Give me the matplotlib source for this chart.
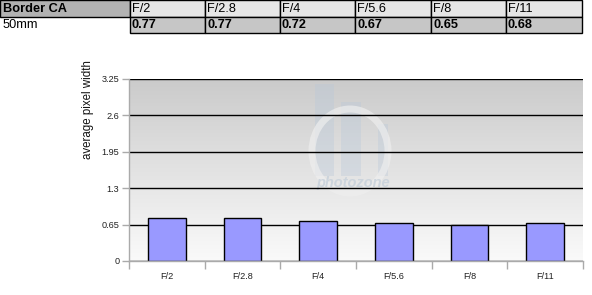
import numpy as np
import matplotlib
matplotlib.rcParams['font.family'] = ['Liberation Sans', 'DejaVu Sans']
import matplotlib.pyplot as plt
from matplotlib.patches import Rectangle, Ellipse

row_title = "Border CA"
lens = "50mm"
apertures = ["F/2", "F/2.8", "F/4", "F/5.6", "F/8", "F/11"]
values = [0.77, 0.77, 0.72, 0.67, 0.65, 0.68]
yticks = [0, 0.65, 1.3, 1.95, 2.6, 3.25]
ytick_labels = ["0", "0.65", "1.3", "1.95", "2.6", "3.25"]

W, H = 592, 295
fig = plt.figure(figsize=(W / 100, H / 100), dpi=100)

# table at the top, drawn in pixel coordinates
tab = fig.add_axes([0, 0, 1, 1])
tab.set_xlim(0, W)
tab.set_ylim(H, 0)
tab.axis("off")

col_x = [0, 130, 205, 280, 355, 431, 506, 582]

tab.add_patch(Rectangle((0, 0), 130, 17, facecolor="#b2b2b2",
                        edgecolor="black", lw=1))
tab.text(3, 8.5, row_title, fontsize=9.2, fontweight="bold",
         va="center", ha="left")
tab.text(3, 25, lens, fontsize=9.2, va="center", ha="left")
for i, (ap, v) in enumerate(zip(apertures, values)):
    x0, x1 = col_x[i + 1], col_x[i + 2]
    tab.add_patch(Rectangle((x0, 0), x1 - x0, 17, facecolor="#e6e6e6",
                            edgecolor="black", lw=1))
    tab.add_patch(Rectangle((x0, 17), x1 - x0, 16, facecolor="#c6c6c6",
                            edgecolor="black", lw=1))
    tab.text(x0 + 2, 8.5, ap, fontsize=9.2, va="center", ha="left")
    tab.text(x0 + 2, 25, f"{v:.2f}", fontsize=9.2, fontweight="bold",
             va="center", ha="left")

# chart
left, right, top, bottom = 129, 583, 79, 261
ax = fig.add_axes([left / W, 1 - bottom / H, (right - left) / W,
                   (bottom - top) / H])
ax.patch.set_alpha(0)

grad = np.linspace(0, 1, 256).reshape(-1, 1)
ax.imshow(grad, extent=(-0.5, 5.5, 0, 3.25), aspect="auto",
          cmap=matplotlib.colors.LinearSegmentedColormap.from_list(
              "bg", ["#cbcbcb", "#fafafa"]), origin="upper", zorder=0)

# faint logo watermark (pixel coords of the figure)
pt = tab.transData
for bx, by, bw in [(315, 84, 19), (341, 102, 20), (378, 124, 10)]:
    ax.add_patch(Rectangle((bx, by), bw, 176 - by, transform=pt,
                           facecolor="#b8c8da", alpha=0.35, lw=0,
                           zorder=0.5, clip_on=False))
ax.add_patch(Ellipse((350, 151), 76, 84, transform=pt, fill=False,
                     edgecolor="#eeeeee", lw=5, alpha=0.7, zorder=0.6,
                     clip_on=False))
ax.text(353, 183, "photozone", transform=pt, fontsize=10.5,
        fontstyle="italic", fontweight="bold", color="#c6d0da",
        alpha=0.8, ha="center", va="center", zorder=0.7)

for t in yticks:
    ax.axhline(t, color="black", lw=1, zorder=1)

x = np.arange(len(apertures))
ax.bar(x, values, width=0.5, color="#9999ff", edgecolor="black",
       lw=1, zorder=2)

ax.set_xlim(-0.5, 5.5)
ax.set_ylim(0, 3.25)
ax.set_yticks(yticks)
ax.set_yticklabels(ytick_labels)
ax.set_xticks(x)
ax.set_xticklabels(apertures)
ax.set_xticks(np.arange(-0.5, 6, 1), minor=True)
ax.tick_params(axis="x", which="major", length=0, pad=8,
               labelsize=6.6, labelcolor="#222222")
ax.tick_params(axis="x", which="minor", length=6, color="#aaaaaa",
               width=1)
ax.tick_params(axis="y", length=5, color="#aaaaaa", width=1,
               labelsize=6.6, labelcolor="#222222", pad=2)
for s in ["top", "right"]:
    ax.spines[s].set_visible(False)
for s in ["left", "bottom"]:
    ax.spines[s].set_color("#aaaaaa")
    ax.spines[s].set_linewidth(1)

fig.text(88 / W, 1 - 110 / H, "average pixel width", rotation=90,
         fontsize=8.3, ha="center", va="center", color="#111111")

fig.savefig("out.png", dpi=100)
